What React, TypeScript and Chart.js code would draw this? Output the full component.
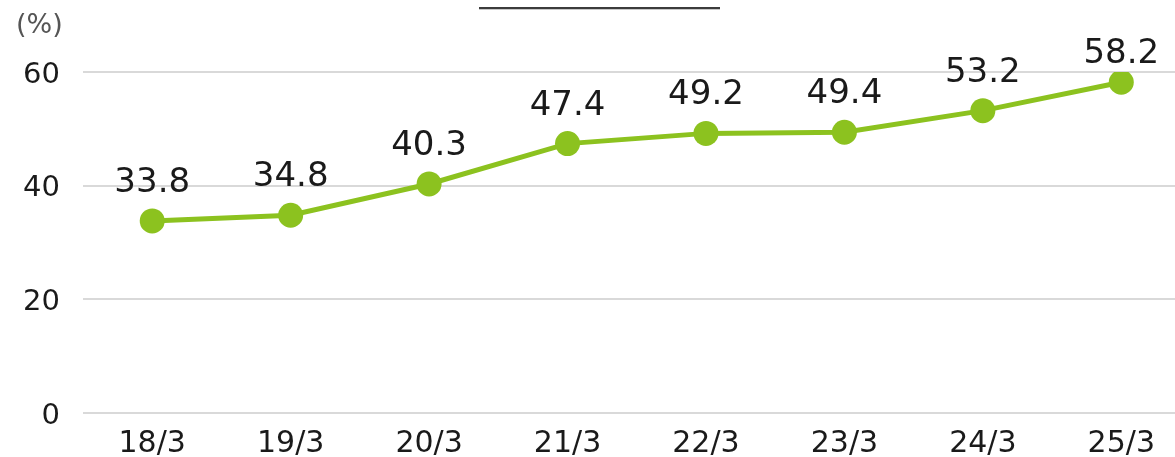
import React, { useEffect, useRef } from "react";
import { Chart, registerables } from "chart.js";

Chart.register(...registerables);

const categories = ["18/3", "19/3", "20/3", "21/3", "22/3", "23/3", "24/3", "25/3"];
const values = [33.8, 34.8, 40.3, 47.4, 49.2, 49.4, 53.2, 58.2];
const yTicks = [0, 20, 40, 60];
const unitLabel = "(%)";

const FONT = "'DejaVu Sans', sans-serif";
const GREEN = "#8cc21f";

const extrasPlugin = {
  id: "extras",
  afterDatasetsDraw(chart: any) {
    const ctx = chart.ctx;
    const meta = chart.getDatasetMeta(0);
    ctx.save();
    ctx.fillStyle = "#1a1a1a";
    ctx.font = `34px ${FONT}`;
    ctx.textAlign = "center";
    ctx.textBaseline = "alphabetic";
    meta.data.forEach((pt: any, i: number) => {
      const last = i === meta.data.length - 1;
      ctx.fillText(values[i].toFixed(1), pt.x, pt.y - (last ? 19 : 29));
    });
    // unit label
    ctx.fillStyle = "#555";
    ctx.font = `27px ${FONT}`;
    ctx.textAlign = "left";
    ctx.textBaseline = "middle";
    ctx.fillText(unitLabel, 16, 26);
    // top line
    ctx.strokeStyle = "#3c3c3c";
    ctx.lineWidth = 2;
    ctx.beginPath();
    ctx.moveTo(479, 8);
    ctx.lineTo(720, 8);
    ctx.stroke();
    ctx.strokeStyle = "#c8c8c8";
    ctx.lineWidth = 1;
    ctx.beginPath();
    ctx.moveTo(479, 9.5);
    ctx.lineTo(720, 9.5);
    ctx.stroke();
    ctx.restore();
  },
};

export default function App() {
  const ref = useRef<HTMLCanvasElement | null>(null);
  useEffect(() => {
    if (!ref.current) return;
    const chart = new Chart(ref.current, {
      type: "line",
      data: {
        labels: categories,
        datasets: [
          {
            data: values,
            borderColor: GREEN,
            backgroundColor: GREEN,
            borderWidth: 5,
            pointRadius: 12.5,
            pointHoverRadius: 12.5,
            pointBackgroundColor: GREEN,
            pointBorderWidth: 0,
            tension: 0,
          },
        ],
      },
      options: {
        responsive: true,
        maintainAspectRatio: false,
        animation: false,
        layout: { padding: { top: 72, right: 0, left: 0, bottom: 0 } },
        plugins: {
          legend: { display: false },
          tooltip: { enabled: false },
          title: { display: false },
        },
        scales: {
          x: {
            offset: true,
            grid: { display: false, drawTicks: false },
            border: { display: false },
            ticks: {
              color: "#1a1a1a",
              font: { family: FONT, size: 30 },
              padding: 13,
              maxRotation: 0,
            },
            afterFit(scale: any) {
              scale.height = 44;
            },
          },
          y: {
            min: 0,
            max: 60,
            afterBuildTicks(scale: any) {
              scale.ticks = yTicks.map((v) => ({ value: v }));
            },
            grid: { color: "#d9d9d9", lineWidth: 2, drawTicks: false },
            border: { display: false },
            ticks: {
              color: "#1a1a1a",
              font: { family: FONT, size: 29 },
              padding: 23,
              labelOffset: 3,
            },
            afterFit(scale: any) {
              scale.width = 83;
            },
          },
        },
      },
      plugins: [extrasPlugin],
    });
    return () => chart.destroy();
  }, []);

  return (
    <div
      style={{
        position: "fixed",
        left: 0,
        top: 0,
        width: 1175,
        height: 457,
        overflow: "hidden",
        background: "#fff",
      }}
    >
      <div style={{ position: "absolute", left: 0, top: 0, width: 1203, height: 457 }}>
        <canvas ref={ref} />
      </div>
    </div>
  );
}
